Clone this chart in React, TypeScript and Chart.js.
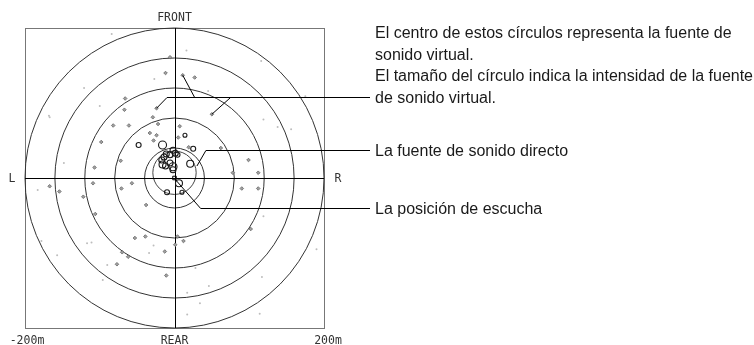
import React, { useEffect, useRef } from 'react';
import { Chart, registerables } from 'chart.js';

Chart.register(...registerables);

// ---- data (metres, listener at origin) ----
const axisMin = -200;
const axisMax = 200;
const ringRadii = [40, 80, 120, 160, 200];
const directRing = { x: 0, y: 7, r: 29 };
const directionLabels = ['FRONT', 'REAR', 'L', 'R'];
const rangeLabels = ['-200m', '200m'];

// virtual sound sources shown as small markers
const reflectionPoints: [number, number][] = [
  [-6, 161], [-12, 140], [11, 137], [27, 134], [-66, 106], [-24, 93], [-67, 91],
  [50, 85], [-29, 81], [-82, 70], [-61, 70], [-22, 72], [7, 69], [-33, 60],
  [-24, 57], [-98, 48], [-28, 50], [5, 54], [19, 41], [62, 40], [-72, 23],
  [-107, 14], [99, 24], [112, 7], [78, 7], [-167, -11], [-154, -18], [-122, -25],
  [-109, -7], [-71, -14], [-57, -7], [90, -14], [112, -14], [-38, -36],
  [-106, -48], [102, -68], [-53, -80], [-39, -78], [4, -78], [12, -84], [1, -89],
  [-13, -98], [-77, -115], [-62, -105], [-11, -130], [-70, -99],
];

// faint, very weak virtual sources
const faintPoints: [number, number][] = [
  [16, 170], [116, 156], [45, 116], [119, 78], [156, 65], [175, 109], [-168, 83],
  [-27, 132], [-183, -16], [-178, -84], [-157, -103], [-117, -87], [-111, -86],
  [-90, -116], [-96, -136], [-28, -90], [-34, -100], [119, -51], [190, -95],
  [28, -120], [46, -144], [117, -132], [17, -153], [34, -167], [17, -182],
  [114, -181], [-121, 120], [-100, 96], [-148, 20], [-84, 192], [138, 68], [-167, 81],
];

// stronger virtual sources: [x, y, intensity]
const strongSources: [number, number, number][] = [
  [-16, 44, 4], [-48, 44, 2.5], [14, 57, 2], [25, 39, 2.5], [21, 19, 3.5],
  [-2, 37, 3], [1, 33, 3], [-6, 31, 3], [-11, 32, 3], [-14, 28, 3],
  [-17, 24, 3], [-16, 18, 3.5], [-12, 16, 3], [-6, 20, 3], [-2, 15, 4],
  [-2, 11, 3], [4, 31, 2.5], [6, -7, 3.5], [-10, -19, 2.5], [10, -19, 2],
];

const listener: [number, number] = [0, 0];

// callouts: text lines, elbow point (metres) and targets (metres)
const calloutTexts = [
  ['El centro de estos círculos representa la fuente de', 'sonido virtual.', 'El tamaño del círculo indica la intensidad de la fuente', 'de sonido virtual.'],
  ['La fuente de sonido directo'],
  ['La posición de escucha'],
];
const calloutElbows: [number, number][] = [[-10, 108], [42, 37], [35, -40]];
const calloutTargets: [number, number][][] = [
  [[-24, 93], [11, 137], [50, 85]],
  [[30, 16]],
  [[2, -3]],
];
const calloutBranchX = [[-10, 27, 75], [42], [35]];

const overlayPlugin = {
  id: 'overlay',
  beforeDatasetsDraw(chart: any) {
    const { ctx, chartArea: a, scales } = chart;
    const xs = scales.x, ys = scales.y;
    ctx.save();
    // frame
    ctx.strokeStyle = '#777';
    ctx.lineWidth = 1;
    ctx.strokeRect(Math.round(a.left) + 0.5, Math.round(a.top) + 0.5, Math.round(a.right - a.left), Math.round(a.bottom - a.top));
    const cx = xs.getPixelForValue(0), cy = ys.getPixelForValue(0);
    // rings
    ctx.strokeStyle = '#333';
    ringRadii.forEach((r) => {
      const rx = xs.getPixelForValue(r) - cx;
      const ry = cy - ys.getPixelForValue(r);
      ctx.beginPath();
      ctx.ellipse(cx, cy, rx, ry, 0, 0, Math.PI * 2);
      ctx.stroke();
    });
    // direct-source ring
    {
      const dcx = xs.getPixelForValue(directRing.x);
      const dcy = ys.getPixelForValue(directRing.y);
      const rx = xs.getPixelForValue(directRing.x + directRing.r) - dcx;
      ctx.strokeStyle = '#444';
      ctx.beginPath();
      ctx.arc(dcx, dcy, rx, 0, Math.PI * 2);
      ctx.stroke();
    }
    // cross hair
    ctx.strokeStyle = '#000';
    ctx.beginPath();
    ctx.moveTo(a.left, Math.round(cy) + 0.5);
    ctx.lineTo(a.right, Math.round(cy) + 0.5);
    ctx.moveTo(Math.round(cx) + 0.5, a.top);
    ctx.lineTo(Math.round(cx) + 0.5, a.bottom);
    ctx.stroke();
    ctx.restore();
  },
  afterDraw(chart: any) {
    const { ctx, chartArea: a, scales } = chart;
    const xs = scales.x, ys = scales.y;
    const cx = xs.getPixelForValue(0), cy = ys.getPixelForValue(0);
    ctx.save();
    // direction labels
    ctx.fillStyle = '#333';
    ctx.font = '11.5px "DejaVu Sans Mono", monospace';
    ctx.textAlign = 'center';
    ctx.textBaseline = 'middle';
    ctx.fillText(directionLabels[0], cx, a.top - 10);
    ctx.fillText(directionLabels[1], cx, a.bottom + 13);
    ctx.fillText(directionLabels[2], a.left - 13, cy + 1);
    ctx.fillText(directionLabels[3], a.right + 14, cy + 1);
    ctx.fillText(rangeLabels[0], xs.getPixelForValue(axisMin) + 2, a.bottom + 13);
    ctx.fillText(rangeLabels[1], xs.getPixelForValue(axisMax) + 4, a.bottom + 13);

    // callouts
    const textX = 375;
    ctx.strokeStyle = '#000';
    ctx.lineWidth = 1;
    ctx.font = '16px "Liberation Sans", Arial, sans-serif';
    ctx.textAlign = 'left';
    ctx.textBaseline = 'alphabetic';
    ctx.fillStyle = '#1a1a1a';
    const lineGap = 21.5;
    calloutTexts.forEach((lines, i) => {
      const ey = Math.round(ys.getPixelForValue(calloutElbows[i][1])) + 0.5;
      const ex = xs.getPixelForValue(calloutElbows[i][0]);
      ctx.beginPath();
      ctx.moveTo(ex, ey);
      ctx.lineTo(textX - 5, ey);
      calloutTargets[i].forEach((t, j) => {
        const bx = xs.getPixelForValue(calloutBranchX[i][j]);
        ctx.moveTo(bx, ey);
        ctx.lineTo(xs.getPixelForValue(t[0]), ys.getPixelForValue(t[1]));
      });
      ctx.stroke();
      const lastBase = ey + 5;
      lines.forEach((s, k) => {
        ctx.fillText(s, textX, lastBase - (lines.length - 1 - k) * lineGap);
      });
    });
    ctx.restore();
  },
};

export default function App() {
  const ref = useRef<HTMLCanvasElement | null>(null);
  useEffect(() => {
    if (!ref.current) return;
    const chart = new Chart(ref.current, {
      data: {
        datasets: [
          {
            type: 'scatter',
            data: faintPoints.map(([x, y]) => ({ x, y })),
            pointStyle: 'circle',
            pointRadius: 1,
            backgroundColor: '#bdbdbd',
            borderWidth: 0,
          },
          {
            type: 'scatter',
            data: reflectionPoints.map(([x, y]) => ({ x, y })),
            pointStyle: 'rectRot',
            pointRadius: 1.8,
            backgroundColor: '#a0a0a0',
            borderColor: '#666',
            borderWidth: 0.8,
          },
          {
            type: 'bubble',
            data: strongSources.map(([x, y, r]) => ({ x, y, r })),
            backgroundColor: 'rgba(0,0,0,0)',
            borderColor: '#1a1a1a',
            borderWidth: 1.1,
          },
          {
            type: 'scatter',
            data: [{ x: listener[0], y: listener[1] }],
            pointStyle: 'rect',
            pointRadius: 2.5,
            backgroundColor: 'rgba(0,0,0,0)',
            borderColor: '#000',
            borderWidth: 1,
          },
        ],
      } as any,
      options: {
        animation: false,
        responsive: false,
        maintainAspectRatio: false,
        events: [],
        layout: { padding: { left: 25, top: 28, right: 430, bottom: 17 } },
        scales: {
          x: { type: 'linear', min: axisMin, max: axisMax, display: false },
          y: { type: 'linear', min: axisMin, max: axisMax, display: false },
        },
        plugins: { legend: { display: false }, tooltip: { enabled: false } },
      } as any,
      plugins: [overlayPlugin],
    });
    return () => chart.destroy();
  }, []);
  return (
    <div style={{ position: 'fixed', left: 0, top: 0, width: 754, height: 345, background: '#fff' }}>
      <canvas ref={ref} width={754} height={345} style={{ display: 'block', width: 754, height: 345 }} />
    </div>
  );
}
